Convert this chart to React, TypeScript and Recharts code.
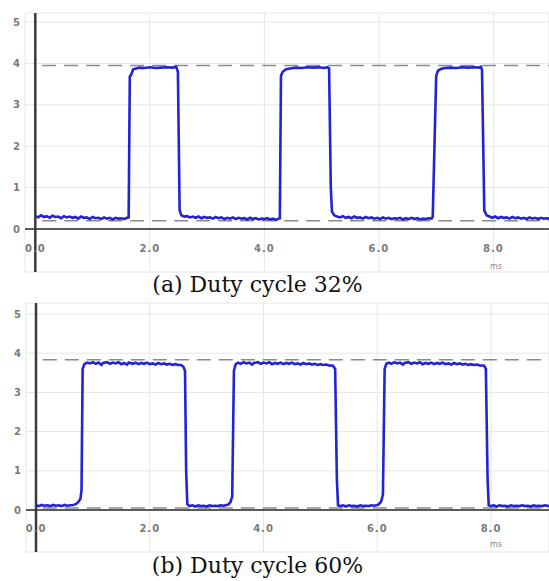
import { LineChart, Line, XAxis, YAxis, CartesianGrid, ReferenceLine } from 'recharts'

// scope trace (a), duty cycle 32% — [ms, V]
const traceA: [number, number][] = [
  [0.0, 0.31], [0.05, 0.28], [0.1, 0.33], [0.15, 0.29], [0.2, 0.31], [0.25, 0.27], [0.3, 0.32],
  [0.35, 0.29], [0.4, 0.3], [0.45, 0.26], [0.5, 0.31], [0.55, 0.28], [0.6, 0.3], [0.65, 0.27],
  [0.7, 0.29], [0.75, 0.25], [0.8, 0.3], [0.85, 0.27], [0.9, 0.28], [0.95, 0.24], [1.0, 0.29],
  [1.05, 0.26], [1.1, 0.27], [1.15, 0.24], [1.2, 0.28], [1.25, 0.25], [1.3, 0.27], [1.35, 0.23],
  [1.4, 0.27], [1.45, 0.25], [1.5, 0.26], [1.55, 0.24], [1.6, 0.27], [1.63, 0.28],
  [1.65, 3.68], [1.68, 3.75], [1.71, 3.86], [1.76, 3.88], [1.82, 3.9], [1.9, 3.89], [2.0, 3.91],
  [2.1, 3.89], [2.2, 3.9], [2.3, 3.91], [2.4, 3.9], [2.46, 3.92],
  [2.49, 3.8], [2.52, 0.45], [2.55, 0.33], [2.6, 0.3], [2.65, 0.31], [2.7, 0.28], [2.75, 0.3],
  [2.8, 0.27], [2.85, 0.3], [2.9, 0.26], [2.95, 0.29], [3.0, 0.27], [3.05, 0.28], [3.1, 0.25],
  [3.15, 0.29], [3.2, 0.26], [3.25, 0.28], [3.3, 0.24], [3.35, 0.27], [3.4, 0.25], [3.45, 0.28],
  [3.5, 0.24], [3.55, 0.27], [3.6, 0.25], [3.65, 0.26], [3.7, 0.23], [3.75, 0.27], [3.8, 0.24],
  [3.85, 0.26], [3.9, 0.23], [3.95, 0.25], [4.0, 0.24], [4.05, 0.26], [4.1, 0.23], [4.15, 0.25],
  [4.2, 0.22], [4.25, 0.25], [4.27, 0.26],
  [4.29, 3.7], [4.32, 3.8], [4.38, 3.86], [4.45, 3.88], [4.55, 3.9], [4.65, 3.89], [4.75, 3.91],
  [4.85, 3.9], [4.95, 3.91], [5.05, 3.89], [5.1, 3.91],
  [5.13, 3.88], [5.16, 1.0], [5.18, 0.42], [5.22, 0.33], [5.27, 0.3], [5.32, 0.28], [5.37, 0.31],
  [5.42, 0.27], [5.47, 0.29], [5.52, 0.26], [5.57, 0.3], [5.62, 0.27], [5.67, 0.28], [5.72, 0.25],
  [5.77, 0.29], [5.82, 0.26], [5.87, 0.28], [5.92, 0.25], [5.97, 0.27], [6.02, 0.24], [6.07, 0.28],
  [6.12, 0.25], [6.17, 0.27], [6.22, 0.24], [6.27, 0.26], [6.32, 0.25], [6.37, 0.27], [6.42, 0.23],
  [6.47, 0.26], [6.52, 0.24], [6.57, 0.27], [6.62, 0.24], [6.67, 0.26], [6.72, 0.23], [6.77, 0.25],
  [6.82, 0.24], [6.87, 0.26], [6.92, 0.25],
  [6.94, 0.3], [7.0, 3.7], [7.03, 3.82], [7.08, 3.87], [7.15, 3.89], [7.25, 3.9], [7.35, 3.89],
  [7.45, 3.91], [7.55, 3.9], [7.65, 3.91], [7.75, 3.9], [7.78, 3.92],
  [7.8, 3.85], [7.84, 0.45], [7.88, 0.33], [7.93, 0.3], [7.98, 0.27], [8.03, 0.3], [8.08, 0.26],
  [8.13, 0.29], [8.18, 0.27], [8.23, 0.28], [8.28, 0.25], [8.33, 0.29], [8.38, 0.26], [8.43, 0.28],
  [8.48, 0.25], [8.53, 0.27], [8.58, 0.24], [8.63, 0.28], [8.68, 0.25], [8.73, 0.27], [8.78, 0.24],
  [8.83, 0.27], [8.88, 0.25], [8.93, 0.26], [8.97, 0.25],
]

// scope trace (b), duty cycle 60% — [ms, V]
const traceB: [number, number][] = [
  [0.0, 0.12], [0.05, 0.1], [0.1, 0.13], [0.15, 0.11], [0.2, 0.12], [0.25, 0.1], [0.3, 0.13],
  [0.35, 0.11], [0.4, 0.12], [0.45, 0.1], [0.5, 0.13], [0.55, 0.11], [0.6, 0.12], [0.65, 0.13],
  [0.7, 0.15], [0.74, 0.2], [0.78, 0.28], [0.8, 0.5],
  [0.82, 3.6], [0.85, 3.72], [0.9, 3.76], [0.95, 3.74], [1.0, 3.77], [1.05, 3.73], [1.1, 3.76],
  [1.15, 3.7], [1.18, 3.75], [1.25, 3.77], [1.3, 3.73], [1.35, 3.76], [1.4, 3.74], [1.45, 3.77],
  [1.5, 3.72], [1.55, 3.75], [1.6, 3.71], [1.63, 3.76], [1.7, 3.73], [1.75, 3.76], [1.8, 3.72],
  [1.85, 3.75], [1.9, 3.73], [1.95, 3.76], [2.0, 3.72], [2.05, 3.74], [2.1, 3.71], [2.15, 3.75],
  [2.2, 3.72], [2.25, 3.74], [2.3, 3.71], [2.35, 3.73], [2.4, 3.7], [2.45, 3.72], [2.5, 3.7],
  [2.55, 3.7], [2.59, 3.66], [2.62, 3.55], [2.64, 1.0], [2.66, 0.15],
  [2.7, 0.1], [2.75, 0.12], [2.8, 0.09], [2.85, 0.12], [2.9, 0.1], [2.95, 0.11], [3.0, 0.09],
  [3.05, 0.12], [3.1, 0.1], [3.15, 0.11], [3.2, 0.1], [3.25, 0.12], [3.3, 0.11], [3.35, 0.13],
  [3.38, 0.14], [3.42, 0.2], [3.45, 0.35],
  [3.48, 3.55], [3.51, 3.72], [3.55, 3.76], [3.6, 3.73], [3.65, 3.77], [3.7, 3.74], [3.75, 3.76],
  [3.8, 3.71], [3.83, 3.75], [3.9, 3.77], [3.95, 3.73], [4.0, 3.76], [4.05, 3.74], [4.1, 3.77],
  [4.15, 3.72], [4.2, 3.75], [4.25, 3.73], [4.3, 3.76], [4.35, 3.72], [4.4, 3.75], [4.45, 3.73],
  [4.5, 3.76], [4.55, 3.72], [4.6, 3.74], [4.65, 3.71], [4.7, 3.75], [4.75, 3.72], [4.8, 3.74],
  [4.85, 3.71], [4.9, 3.73], [4.95, 3.7], [5.0, 3.72], [5.05, 3.7], [5.1, 3.71], [5.15, 3.69],
  [5.22, 3.68], [5.26, 3.6], [5.29, 0.8], [5.31, 0.12],
  [5.35, 0.1], [5.4, 0.12], [5.45, 0.09], [5.5, 0.12], [5.55, 0.1], [5.6, 0.11], [5.65, 0.09],
  [5.7, 0.12], [5.75, 0.1], [5.8, 0.11], [5.85, 0.1], [5.9, 0.12], [5.95, 0.11], [6.0, 0.13],
  [6.03, 0.15], [6.07, 0.22], [6.1, 0.4],
  [6.13, 3.6], [6.16, 3.73], [6.2, 3.76], [6.25, 3.73], [6.3, 3.77], [6.35, 3.74], [6.4, 3.76],
  [6.45, 3.71], [6.48, 3.75], [6.55, 3.77], [6.6, 3.73], [6.65, 3.76], [6.7, 3.74], [6.75, 3.77],
  [6.8, 3.72], [6.85, 3.75], [6.9, 3.73], [6.95, 3.76], [7.0, 3.72], [7.05, 3.75], [7.1, 3.73],
  [7.15, 3.76], [7.2, 3.72], [7.25, 3.74], [7.3, 3.71], [7.35, 3.75], [7.4, 3.72], [7.45, 3.74],
  [7.5, 3.71], [7.55, 3.73], [7.6, 3.7], [7.65, 3.72], [7.7, 3.7], [7.75, 3.71], [7.8, 3.69],
  [7.88, 3.68], [7.91, 3.6], [7.94, 0.8], [7.96, 0.12],
  [8.0, 0.1], [8.05, 0.12], [8.1, 0.09], [8.15, 0.12], [8.2, 0.1], [8.25, 0.11], [8.3, 0.09],
  [8.35, 0.12], [8.4, 0.1], [8.45, 0.11], [8.5, 0.1], [8.55, 0.12], [8.6, 0.1], [8.65, 0.11],
  [8.7, 0.09], [8.75, 0.12], [8.8, 0.1], [8.85, 0.11], [8.9, 0.1], [8.95, 0.12], [9.02, 0.1],
]

const xTicks = [0, 2, 4, 6, 8]
const yTicks = [0, 1, 2, 3, 4, 5]
const levelsA = [3.95, 0.2]
const levelsB = [3.83, 0.05]

const BLUE = '#2222d8'
const tickStyle = { fill: '#7a7a7a', fontSize: 10, fontFamily: 'DejaVu Sans', fontWeight: 700 }

function XTick({ x, y, payload }: any) {
  return (
    <text x={x} y={y - 24} dy="0.355em" textAnchor="middle" {...tickStyle} letterSpacing={1}>
      {Number(payload.value).toFixed(1)}
    </text>
  )
}

interface ScopeProps {
  trace: [number, number][]
  levels: number[]
  xDomain: [number, number]
  yDomain: [number, number]
  height: number
  yWidth: number
}

function Scope({ trace, levels, xDomain, yDomain, height, yWidth }: ScopeProps) {
  const data = trace.map(([t, v]) => ({ t, v }))
  return (
    <LineChart width={549} height={height} data={data} margin={{ top: 13, right: 0, left: 0, bottom: 7 }}>
      <CartesianGrid stroke="#e6e6e6" strokeWidth={1} />
      <XAxis
        dataKey="t"
        type="number"
        domain={xDomain}
        allowDataOverflow
        ticks={xTicks}
        interval={0}
        height={1}
        axisLine={false}
        tickLine={false}
        tickSize={0}
        tickMargin={0}
        tick={<XTick />}
      />
      <YAxis
        type="number"
        domain={yDomain}
        allowDataOverflow
        ticks={yTicks}
        interval={0}
        width={yWidth}
        axisLine={false}
        tickLine={false}
        tickSize={0}
        tickMargin={5}
        tick={tickStyle}
      />
      <ReferenceLine y={0} stroke="#5a5a5a" strokeWidth={2} />
      <ReferenceLine x={0} stroke="#3a3a3a" strokeWidth={2.5} />
      {levels.map(l => (
        <ReferenceLine
          key={l}
          segment={[{ x: 0.12, y: l }, { x: xDomain[1], y: l }]}
          stroke="#8a8a8a"
          strokeWidth={1.5}
          strokeDasharray="14 8"
        />
      ))}
      <Line dataKey="v" type="linear" stroke={BLUE} strokeWidth={2.6} dot={false} isAnimationActive={false} />
    </LineChart>
  )
}

const msStyle: React.CSSProperties = {
  position: 'absolute', fontFamily: 'DejaVu Sans', fontSize: 8, color: '#888', lineHeight: '10px',
}
const capStyle: React.CSSProperties = {
  position: 'absolute', left: 0, width: 515, textAlign: 'center',
  fontFamily: 'DejaVu Serif', fontSize: 22, color: '#111', lineHeight: '24px',
}

export default function App() {
  return (
    <div style={{ position: 'absolute', left: 0, top: 0, width: 549, height: 581, background: '#fff', overflow: 'hidden' }}>
      <div style={{ position: 'absolute', left: 0, top: 0 }}>
        <Scope trace={traceA} levels={levelsA} xDomain={[-0.18, 8.97]} yDomain={[-1.04, 5.22]} height={280} yWidth={25} />
      </div>
      <div style={{ ...msStyle, left: 490, top: 262 }}>ms</div>
      <div style={{ ...capStyle, top: 273 }}>(a) Duty cycle 32%</div>

      <div style={{ position: 'absolute', left: 0, top: 290 }}>
        <Scope trace={traceB} levels={levelsB} xDomain={[-0.176, 9.02]} yDomain={[-1.07, 5.28]} height={270} yWidth={26} />
      </div>
      <div style={{ ...msStyle, left: 490, top: 540 }}>ms</div>
      <div style={{ ...capStyle, top: 554 }}>(b) Duty cycle 60%</div>
    </div>
  )
}
